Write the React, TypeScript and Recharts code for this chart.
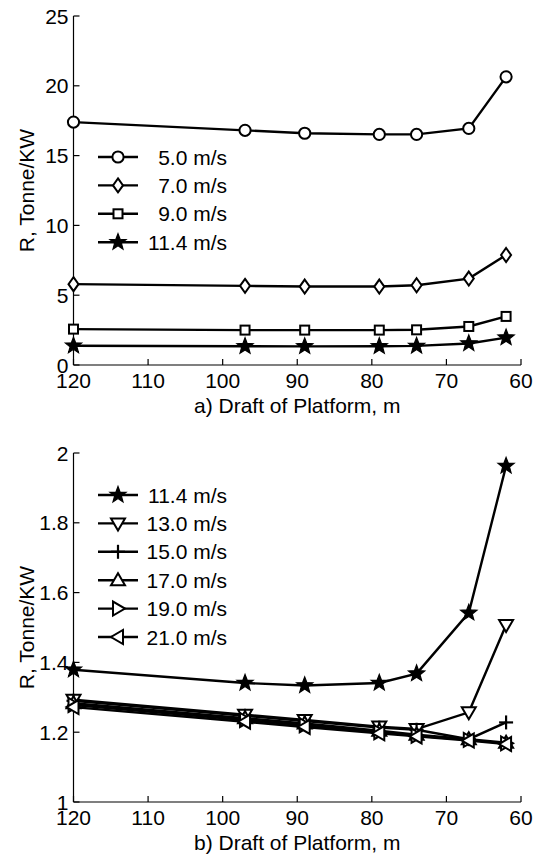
import { Legend, Line, LineChart, XAxis, YAxis } from 'recharts';

// draft of platform (m) and R (tonne/kW) for each wind speed
const drafts = [120, 97, 89, 79, 74, 67, 62];

const r50 = [17.4, 16.81, 16.6, 16.52, 16.52, 16.95, 20.64];
const r70 = [5.79, 5.67, 5.62, 5.62, 5.71, 6.19, 7.88];
const r90 = [2.57, 2.5, 2.5, 2.5, 2.52, 2.76, 3.48];
const r114 = [1.379, 1.341, 1.334, 1.341, 1.368, 1.542, 1.963];
const r130 = [1.293, 1.25, 1.235, 1.216, 1.209, 1.257, 1.507];
const r150 = [1.29, 1.247, 1.232, 1.213, 1.207, 1.18, 1.228];
const r170 = [1.283, 1.24, 1.225, 1.204, 1.193, 1.18, 1.17];
const r190 = [1.278, 1.235, 1.22, 1.2, 1.19, 1.178, 1.168];
const r210 = [1.272, 1.23, 1.215, 1.197, 1.188, 1.176, 1.166];

const xTicks = [120, 110, 100, 90, 80, 70, 60];
const yTicksA = [0, 5, 10, 15, 20, 25];
const yTicksB = [1, 1.2, 1.4, 1.6, 1.8, 2];

const FONT = '"Liberation Sans", Arial, Helvetica, sans-serif';
const FS = 21;
const TICK_LEN = 6;
const LINE_W = 2.4;

type Shape = 'circle' | 'diamond' | 'square' | 'star' | 'down' | 'plus' | 'up' | 'right' | 'left';
type Series = { key: string; label: string; shape: Shape; values: number[] };

const seriesA: Series[] = [
  { key: 's50', label: '5.0 m/s', shape: 'circle', values: r50 },
  { key: 's70', label: '7.0 m/s', shape: 'diamond', values: r70 },
  { key: 's90', label: '9.0 m/s', shape: 'square', values: r90 },
  { key: 's114', label: '11.4 m/s', shape: 'star', values: r114 },
];

const seriesB: Series[] = [
  { key: 's114', label: '11.4 m/s', shape: 'star', values: r114 },
  { key: 's130', label: '13.0 m/s', shape: 'down', values: r130 },
  { key: 's150', label: '15.0 m/s', shape: 'plus', values: r150 },
  { key: 's170', label: '17.0 m/s', shape: 'up', values: r170 },
  { key: 's190', label: '19.0 m/s', shape: 'right', values: r190 },
  { key: 's210', label: '21.0 m/s', shape: 'left', values: r210 },
];

function buildRows(series: Series[]) {
  return drafts.map((d, i) => {
    const row: Record<string, number> = { draft: d };
    series.forEach((s) => {
      row[s.key] = s.values[i];
    });
    return row;
  });
}

const dataA = buildRows(seriesA);
const dataB = buildRows(seriesB);

function starPoints(cx: number, cy: number, ro: number, ri: number) {
  const pts: string[] = [];
  for (let i = 0; i < 10; i++) {
    const r = i % 2 === 0 ? ro : ri;
    const a = -Math.PI / 2 + (i * Math.PI) / 5;
    pts.push(`${cx + r * Math.cos(a)},${cy + r * Math.sin(a)}`);
  }
  return pts.join(' ');
}

function Marker({ cx, cy, shape }: { cx: number; cy: number; shape: Shape }) {
  const common = { fill: '#fff', stroke: '#000', strokeWidth: 2 };
  switch (shape) {
    case 'circle':
      return <circle cx={cx} cy={cy} r={5.6} {...common} />;
    case 'diamond':
      return <polygon points={`${cx},${cy - 7} ${cx + 5},${cy} ${cx},${cy + 7} ${cx - 5},${cy}`} {...common} />;
    case 'square':
      return <rect x={cx - 4.5} y={cy - 4.5} width={9} height={9} {...common} />;
    case 'star':
      return <polygon points={starPoints(cx, cy, 8.5, 3.6)} fill="#000" stroke="#000" strokeWidth={1.2} />;
    case 'down':
      return <polygon points={`${cx - 7},${cy - 5} ${cx + 7},${cy - 5} ${cx},${cy + 7}`} {...common} />;
    case 'up':
      return <polygon points={`${cx - 7},${cy + 5} ${cx + 7},${cy + 5} ${cx},${cy - 7}`} {...common} />;
    case 'right':
      return <polygon points={`${cx - 5},${cy - 7} ${cx - 5},${cy + 7} ${cx + 7},${cy}`} {...common} />;
    case 'left':
      return <polygon points={`${cx + 5},${cy - 7} ${cx + 5},${cy + 7} ${cx - 7},${cy}`} {...common} />;
    case 'plus':
      return (
        <g stroke="#000" strokeWidth={2.2}>
          <line x1={cx - 7} y1={cy} x2={cx + 7} y2={cy} />
          <line x1={cx} y1={cy - 7} x2={cx} y2={cy + 7} />
        </g>
      );
    default:
      return null;
  }
}

function makeDot(shape: Shape) {
  return (props: any) => {
    const { cx, cy, index } = props;
    if (cx == null || cy == null) return <g key={`d-${index}`} />;
    return (
      <g key={`d-${shape}-${index}`}>
        <Marker cx={cx} cy={cy} shape={shape} />
      </g>
    );
  };
}

function LegendBox({ series, top }: { series: Series[]; top: number }) {
  const rowH = 28.4;
  return (
    <svg width={534} height={434} style={{ position: 'absolute', left: 0, top: 0, pointerEvents: 'none' }}>
      {series.map((s, i) => {
        const y = top + i * rowH;
        return (
          <g key={s.label}>
            <line x1={98} y1={y} x2={138} y2={y} stroke="#000" strokeWidth={LINE_W} />
            <Marker cx={118} cy={y} shape={s.shape} />
            <text x={227} y={y} dy="0.36em" textAnchor="end" fontSize={FS} fontFamily={FONT} fill="#000">
              {s.label}
            </text>
          </g>
        );
      })}
    </svg>
  );
}

// axis ticks point inward; tickSize 6 + tickMargin 2 puts the tick anchor 8px off the axis line
function BottomTick(props: any) {
  const { x, y, payload } = props;
  const axisY = y - 8;
  return (
    <g>
      <line x1={x} y1={axisY} x2={x} y2={axisY - TICK_LEN} stroke="#000" strokeWidth={1.2} />
      <text x={x} y={axisY + 8} dy="0.72em" textAnchor="middle" fontSize={FS} fontFamily={FONT} fill="#000">
        {payload.value}
      </text>
    </g>
  );
}

function LeftTick(props: any) {
  const { x, y, payload } = props;
  const axisX = x + 8;
  return (
    <g>
      <line x1={axisX} y1={y} x2={axisX + TICK_LEN} y2={y} stroke="#000" strokeWidth={1.2} />
      <text x={axisX - 5} y={y} dy="0.36em" textAnchor="end" fontSize={FS} fontFamily={FONT} fill="#000">
        {payload.value}
      </text>
    </g>
  );
}

function TopTick(props: any) {
  const { x, y } = props;
  const axisY = y + 8;
  return <line x1={x} y1={axisY} x2={x} y2={axisY + TICK_LEN} stroke="#000" strokeWidth={1.2} />;
}

function RightTick(props: any) {
  const { x, y } = props;
  const axisX = x - 8;
  return <line x1={axisX} y1={y} x2={axisX - TICK_LEN} y2={y} stroke="#000" strokeWidth={1.2} />;
}

function yLabel(text: string) {
  return (props: any) => {
    const vb = props.viewBox;
    const cx = vb.x + 26;
    const cy = vb.y + vb.height / 2;
    return (
      <text x={cx} y={cy} dy="0.36em" transform={`rotate(-90 ${cx} ${cy})`} textAnchor="middle" fontSize={FS} fontFamily={FONT} fill="#000">
        {text}
      </text>
    );
  };
}

function xLabel(text: string) {
  return (props: any) => {
    const vb = props.viewBox;
    return (
      <text x={vb.x + vb.width / 2} y={vb.y + 40} dy="0.36em" textAnchor="middle" fontSize={FS} fontFamily={FONT} fill="#000">
        {text}
      </text>
    );
  };
}

function Panel({
  data,
  series,
  yDomain,
  yTicks,
  xTitle,
  top,
  height,
  legendTop,
}: {
  data: Record<string, number>[];
  series: Series[];
  yDomain: [number, number];
  yTicks: number[];
  xTitle: string;
  top: number;
  height: number;
  legendTop: number;
}) {
  return (
    <LineChart width={534} height={height} data={data} margin={{ top, right: 13, left: 0, bottom: 0 }}>
      <XAxis
        dataKey="draft"
        type="number"
        domain={[60, 120]}
        reversed
        ticks={xTicks}
        height={height - top - 349}
        stroke="#000"
        strokeWidth={1.2}
        tickLine={false}
        tickSize={6}
        tickMargin={2}
        tick={BottomTick}
        label={{ content: xLabel(xTitle) }}
      />
      <XAxis
        xAxisId="top"
        dataKey="draft"
        type="number"
        orientation="top"
        domain={[60, 120]}
        reversed
        ticks={xTicks}
        height={0}
        stroke="#000"
        strokeWidth={1.2}
        tickLine={false}
        tickSize={6}
        tickMargin={2}
        tick={TopTick}
      />
      <YAxis
        type="number"
        domain={yDomain}
        ticks={yTicks}
        width={73.5}
        stroke="#000"
        strokeWidth={1.2}
        tickLine={false}
        tickSize={6}
        tickMargin={2}
        tick={LeftTick}
        label={{ content: yLabel('R, Tonne/KW') }}
      />
      <YAxis
        yAxisId="right"
        type="number"
        orientation="right"
        domain={yDomain}
        ticks={yTicks}
        width={0}
        stroke="#000"
        strokeWidth={1.2}
        tickLine={false}
        tickSize={6}
        tickMargin={2}
        tick={RightTick}
      />
      {series.map((s) => (
        <Line
          key={s.key}
          dataKey={s.key}
          type="linear"
          stroke="#000"
          strokeWidth={LINE_W}
          dot={makeDot(s.shape)}
          activeDot={false}
          isAnimationActive={false}
        />
      ))}
      <Legend
        layout="vertical"
        align="center"
        verticalAlign="middle"
        wrapperStyle={{ left: 0, top: 0, width: 534, height }}
        content={() => <LegendBox series={series} top={legendTop} />}
      />
    </LineChart>
  );
}

export default function App() {
  return (
    <div style={{ position: 'absolute', left: 0, top: 0, width: 534, height: 854, background: '#fff' }}>
      <div style={{ position: 'absolute', left: 0, top: 0 }}>
        <Panel
          data={dataA}
          series={seriesA}
          yDomain={[0, 25]}
          yTicks={yTicksA}
          xTitle="a) Draft of Platform, m"
          top={16}
          height={420}
          legendTop={157}
        />
      </div>
      <div style={{ position: 'absolute', left: 0, top: 420 }}>
        <Panel
          data={dataB}
          series={seriesB}
          yDomain={[1, 2]}
          yTicks={yTicksB}
          xTitle="b) Draft of Platform, m"
          top={33}
          height={434}
          legendTop={75}
        />
      </div>
    </div>
  );
}
